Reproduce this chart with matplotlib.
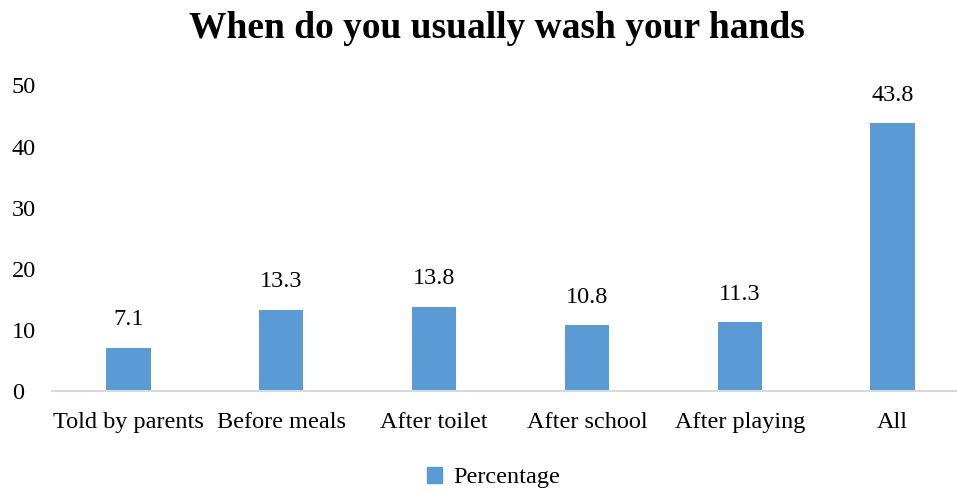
import matplotlib
matplotlib.use("Agg")
import matplotlib.pyplot as plt
from matplotlib.patches import Patch

categories = ["Told by parents", "Before meals", "After toilet",
              "After school", "After playing", "All"]
percentage = [7.1, 13.3, 13.8, 10.8, 11.3, 43.8]
yticks = [0, 10, 20, 30, 40, 50]

plt.rcParams['font.family'] = ['Liberation Serif', 'DejaVu Serif']
bar_color = '#5B9BD5'
fs = 17.5

fig = plt.figure(figsize=(9.57, 4.91), dpi=100)
# axes runs slightly past the right edge so the last category sits where it should
ax = fig.add_axes([52 / 957, 100 / 491, 917 / 957, 305.6 / 491])

x = range(len(categories))
bars = ax.bar(x, percentage, width=0.29, color=bar_color)
for b, v in zip(bars, percentage):
    ax.annotate(f"{v}", (b.get_x() + b.get_width() / 2, v),
                xytext=(0, 16), textcoords='offset points',
                ha='center', va='baseline', fontsize=fs)

ax.set_xlim(-0.5, len(categories) - 0.5)
ax.set_ylim(0, 50)
ax.set_yticks(yticks)
ax.set_xticks(list(x))
ax.set_xticklabels(categories, va='baseline')
ax.tick_params(axis='both', length=0, labelsize=fs)
ax.tick_params(axis='x', pad=26.5)
ax.tick_params(axis='y', pad=29)
for lbl in ax.get_yticklabels():
    lbl.set_horizontalalignment('left')
for s in ['top', 'right', 'left']:
    ax.spines[s].set_visible(False)
ax.spines['bottom'].set_color('#D9D9D9')
ax.spines['bottom'].set_linewidth(1.5)

fig.text(0.519, 0.942, "When do you usually wash your hands",
         ha='center', va='center', fontsize=27, fontweight='bold')

fig.legend(handles=[Patch(color=bar_color, label='Percentage')],
           loc='center', bbox_to_anchor=(0.516, 0.027), frameon=False,
           fontsize=fs, handlelength=0.6, handleheight=0.6, handletextpad=0.5)

fig.savefig('out.png', dpi=100)
